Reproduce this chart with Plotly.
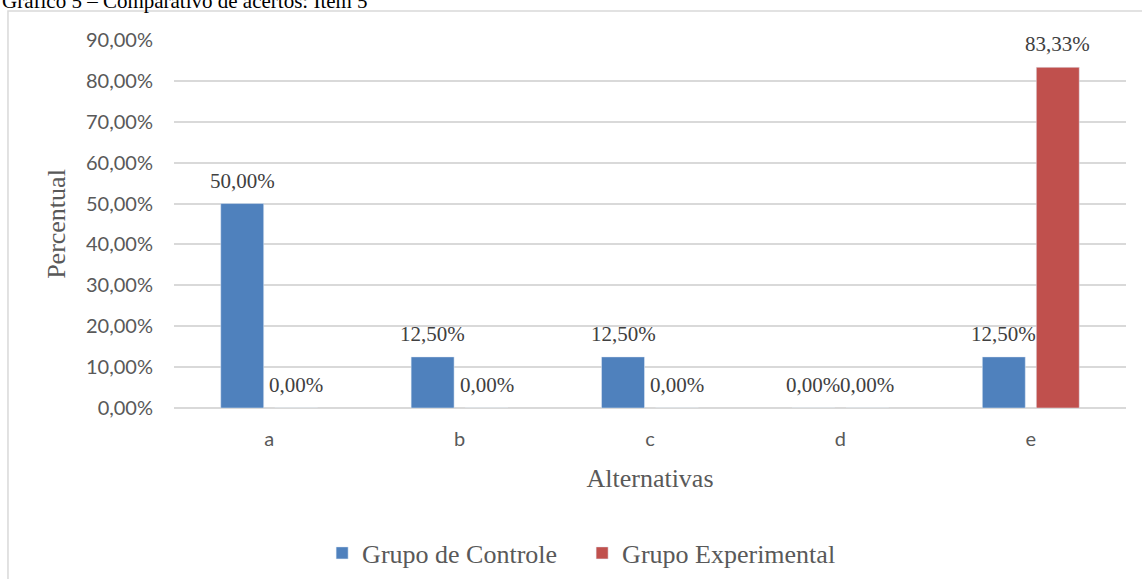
import plotly.graph_objects as go

# Data
alternativas = ['a', 'b', 'c', 'd', 'e']
controle = [0.50, 0.125, 0.125, 0.0, 0.125]
experimental = [0.0, 0.0, 0.0, 0.0, 0.8333]
y_ticks = [0, 0.1, 0.2, 0.3, 0.4, 0.5, 0.6, 0.7, 0.8, 0.9]

serif = 'Liberation Serif, Times New Roman, serif'
sans = 'Lato, Calibri, sans-serif'

fig = go.Figure()
fig.add_trace(go.Bar(x=alternativas, y=controle, name='Grupo de Controle',
                     marker=dict(color='#4F81BD')))
fig.add_trace(go.Bar(x=alternativas, y=experimental, name='Grupo Experimental',
                     marker=dict(color='#C0504D')))

# data labels, a bit higher above the bars than plotly's own outside text
for vals, dx in [(controle, -27), (experimental, 27)]:
    for cat, v in zip(alternativas, vals):
        fig.add_annotation(x=cat, y=v, text=f'{v * 100:.2f}%'.replace('.', ','),
                           xref='x', yref='y', xshift=dx, yshift=9,
                           yanchor='bottom', showarrow=False,
                           font=dict(family=serif, size=21, color='#404040'))

# outer chart border (Excel style)
fig.add_shape(type='rect', xref='paper', yref='paper',
              x0=-0.1744, x1=1.05, y0=-0.6, y1=1.0788,
              line=dict(color='#D9D9D9', width=1.5), layer='below')

fig.add_annotation(text='Gráfico 5 – Comparativo de acertos: Item 5',
                   xref='paper', yref='paper', x=-0.1828, y=1.106,
                   xanchor='left', yanchor='middle', showarrow=False,
                   font=dict(family=serif, size=21, color='#000000'))

fig.update_layout(
    width=1142, height=579,
    separators=',.',
    barmode='group', bargap=0.433, bargroupgap=0.204,
    plot_bgcolor='white', paper_bgcolor='white',
    margin=dict(l=174, r=16, t=40, b=171, autoexpand=False),
    showlegend=True,
    legend=dict(orientation='h', x=0.4287, y=-0.394, xanchor='center', yanchor='middle',
                font=dict(family=serif, size=26, color='#595959'),
                itemwidth=30, traceorder='normal', entrywidth=215),
    xaxis=dict(
        title=dict(text='Alternativas', font=dict(family=serif, size=26, color='#595959'), standoff=19),
        tickfont=dict(family=sans, size=20, color='#595959'),
        showgrid=False, showline=False, ticks='', ticklabelstandoff=17,
    ),
    yaxis=dict(
        title=dict(text='Percentual', font=dict(family=serif, size=26, color='#595959'), standoff=12),
        range=[0, 0.9], tickvals=y_ticks, tickformat='.2%',
        tickfont=dict(family=sans, size=20, color='#595959'),
        gridcolor='#D9D9D9', gridwidth=1.5,
        zeroline=True, zerolinecolor='#D9D9D9', zerolinewidth=1.5,
        showline=False, ticks='', ticklabelstandoff=20,
    ),
)

fig.write_html("out.html", config={'displayModeBar': False},
               post_script="document.body.style.margin='0';")
